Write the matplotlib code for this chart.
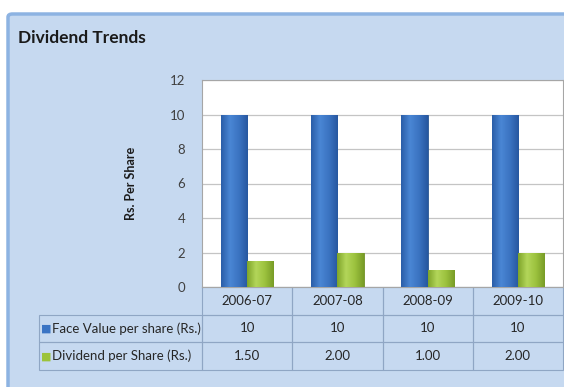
import numpy as np
import matplotlib
matplotlib.use("Agg")
import matplotlib.pyplot as plt
from matplotlib.patches import FancyBboxPatch
from matplotlib.colors import LinearSegmentedColormap

years = ["2006-07", "2007-08", "2008-09", "2009-10"]
series_names = ["Face Value per share (Rs.)", "Dividend per Share (Rs.)"]
face_value = [10, 10, 10, 10]
dividend = [1.50, 2.00, 1.00, 2.00]
face_labels = ["10", "10", "10", "10"]
div_labels = ["1.50", "2.00", "1.00", "2.00"]

plt.rcParams["font.family"] = ["Lato", "DejaVu Sans"]

W, H = 564, 387
fig = plt.figure(figsize=(W / 100, H / 100), dpi=100)
fig.patch.set_facecolor("white")

# outer panel (runs off the right and bottom edge)
panel = FancyBboxPatch((8 / W, -0.05), 1.0, 1 - 14 / H + 0.05,
                       boxstyle="round,pad=0,rounding_size=0.008",
                       transform=fig.transFigure, facecolor="#c6d9f0",
                       edgecolor="#8db3e2", linewidth=2.5, zorder=-5)
fig.patches.append(panel)

fig.text(18 / W, 1 - 38 / H, "Dividend Trends", fontsize=12.5,
         fontweight="bold", color="#1a1a1a", va="center", ha="left")

left, right, top, bottom = 202, 563, 80, 287
ax = fig.add_axes([left / W, 1 - bottom / H, (right - left) / W, (bottom - top) / H])
ax.set_facecolor("white")

x = np.arange(len(years))
bw = 0.29
blue_cmap = LinearSegmentedColormap.from_list("b", ["#2a5ea8", "#4a86d4", "#3b74c2", "#2757a0"])
green_cmap = LinearSegmentedColormap.from_list("g", ["#7fa52a", "#b3d65a", "#9cc23e", "#789c27"])

bars1 = ax.bar(x - bw / 2, face_value, bw, color="#3a74c4", edgecolor="#2a5590",
               linewidth=0.6, zorder=3)
bars2 = ax.bar(x + bw / 2, dividend, bw, color="#9cc33a", edgecolor="#6f8f25",
               linewidth=0.6, zorder=3)

grad = np.linspace(0, 1, 64).reshape(1, -1)
for bars, cm in ((bars1, blue_cmap), (bars2, green_cmap)):
    for b in bars:
        x0, y0 = b.get_x(), b.get_y()
        im = ax.imshow(grad, cmap=cm, aspect="auto", zorder=3.5,
                       extent=(x0, x0 + b.get_width(), y0, y0 + b.get_height()))
        im.set_clip_path(b)

ax.set_xlim(-0.5, 3.5)
ax.set_ylim(0, 12)
ax.set_yticks(range(0, 13, 2))
ax.yaxis.grid(True, color="#c4c4c4", linewidth=0.9, zorder=1)
ax.set_axisbelow(True)
ax.set_xticks([])
ax.tick_params(axis="y", length=0, pad=12, labelsize=9.5, labelcolor="#404040")
for s in ["left", "top", "right", "bottom"]:
    ax.spines[s].set_color("#a6a6a6")
    ax.spines[s].set_linewidth(0.8)

ax.set_ylabel("Rs. Per Share", fontsize=9, fontweight="bold", color="#1a1a1a")
ax.yaxis.set_label_coords(-0.18, 0.5)

# data table under the plot (bbox covers the data cells; row labels hang off the left)
t_left, t_bottom = 39, 370
aw, ah = right - left, bottom - top
bbox = [0, -(t_bottom - bottom) / ah, 1, (t_bottom - bottom) / ah]
cell_text = [face_labels, div_labels]
tab = ax.table(cellText=cell_text, rowLabels=series_names,
               colLabels=years, colWidths=[0.25] * 4,
               cellLoc="center", rowLoc="left", bbox=bbox)
tab.auto_set_font_size(False)
tab._autoColumns = []
for (r, c), cell in tab.get_celld().items():
    if c == -1:
        cell.set_width(0.25 * (left - t_left) / (aw / 4))
        cell.PAD = 0.08
    cell.set_facecolor("none")
    cell.set_edgecolor("#8fa6c4")
    cell.set_linewidth(0.8)
    cell.get_text().set_fontsize(9.5)
    cell.get_text().set_color("#262626")

# legend keys in the row labels
row_h = (t_bottom - bottom) / 3
for i, col in enumerate(["#3a74c4", "#9cc33a"]):
    ypx = bottom + row_h * (1.5 + i)
    fig.text((t_left + 7) / W, 1 - ypx / H, "\u25a0", color=col, fontsize=8,
             va="center", ha="center", family="DejaVu Sans")

fig.savefig("out.png", dpi=100)
